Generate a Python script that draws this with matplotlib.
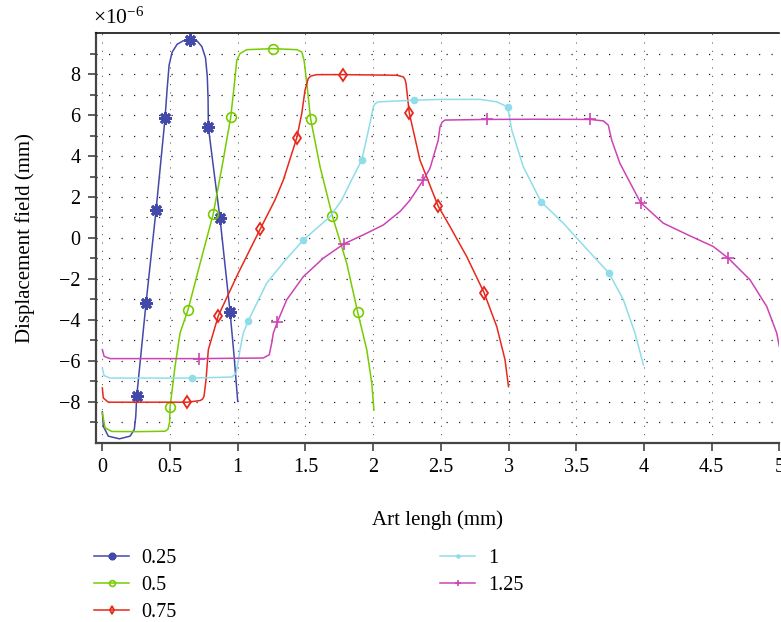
import matplotlib
matplotlib.use("Agg")
import matplotlib.pyplot as plt
from matplotlib.ticker import FixedLocator, FuncFormatter

plt.rcParams['font.family'] = ['Liberation Serif', 'DejaVu Serif']
plt.rcParams['mathtext.fontset'] = 'custom'
plt.rcParams['mathtext.rm'] = 'Liberation Serif'
plt.rcParams['axes.unicode_minus'] = True

# ---- data (y in units of 1e-6) ----
labels = ["0.25", "0.5", "0.75", "1", "1.25"]

x_025 = [0.0, 0.007, 0.044, 0.126, 0.205, 0.236, 0.247, 0.254, 0.323, 0.397, 0.463, 0.478, 0.493, 0.515,
         0.552, 0.596, 0.648, 0.699, 0.735, 0.762, 0.775, 0.781, 0.783, 0.825, 0.869, 0.906, 0.943, 0.973, 1.0]
y_025 = [-8.5, -9.2, -9.69, -9.82, -9.69, -9.37, -8.72, -7.74, -3.17, 1.37, 5.84, 7.22, 8.44, 9.07,
         9.46, 9.63, 9.69, 9.63, 9.35, 8.8, 7.9, 6.8, 5.43, 3.22, 0.96, -1.32, -3.6, -5.76, -7.99]
m_025 = [7, 8, 9, 10, 16, 22, 24, 26]

x_05 = [0.0, 0.02, 0.069, 0.25, 0.463, 0.485, 0.497, 0.5, 0.537, 0.574, 0.633, 0.72, 0.819, 0.89, 0.948,
        0.975, 0.993, 1.017, 1.066, 1.258, 1.436, 1.473, 1.49, 1.51, 1.539, 1.608, 1.699, 1.805, 1.886,
        1.953, 1.99, 2.006]
y_05 = [-8.55, -9.28, -9.46, -9.47, -9.45, -9.35, -9.0, -8.28, -6.28, -4.65, -3.51, -1.3, 1.17, 3.7, 5.89,
        7.5, 8.68, 9.01, 9.2, 9.25, 9.2, 9.09, 8.68, 7.55, 5.79, 3.48, 1.07, -1.24, -3.63,
        -5.46, -7.09, -8.42]
m_05 = [7, 10, 12, 14, 19, 24, 26, 28]

x_075 = [0.0, 0.007, 0.044, 0.3, 0.628, 0.722, 0.74, 0.751, 0.766, 0.783, 0.857, 1.004, 1.165, 1.275,
         1.337, 1.436, 1.473, 1.497, 1.521, 1.54, 1.583, 1.78, 2.174, 2.223, 2.235, 2.243, 2.267, 2.346,
         2.48, 2.568, 2.691, 2.819, 2.913, 2.974, 3.0]
y_075 = [-7.33, -7.82, -8.03, -8.03, -8.03, -7.95, -7.88, -7.74, -6.93, -5.46, -3.8, -1.72, 0.42, 1.85,
         2.83, 4.89, 6.08, 7.22, 7.79, 7.91, 7.98, 7.98, 7.95, 7.87, 7.75, 7.55, 6.11, 3.8,
         1.56, 0.55, -0.91, -2.67, -4.33, -5.95, -7.27]
m_075 = [4, 10, 12, 15, 21, 26, 28, 31]

x_1 = [0.0, 0.013, 0.057, 0.4, 0.665, 0.956, 0.987, 1.004, 1.017, 1.041, 1.078, 1.214, 1.35, 1.485,
       1.682, 1.768, 1.85, 1.916, 1.977, 2.001, 2.015, 2.038, 2.302, 2.494, 2.79, 2.913, 2.994, 3.024,
       3.109, 3.24, 3.405, 3.504, 3.651, 3.742, 3.848, 3.934, 3.996]
y_1 = [-6.36, -6.73, -6.85, -6.85, -6.85, -6.8, -6.63, -6.03, -5.46, -4.65, -4.05, -2.21, -1.1, -0.1,
       1.04, 1.85, 2.95, 3.8, 5.6, 6.4, 6.56, 6.65, 6.73, 6.77, 6.77, 6.65, 6.4, 5.27,
       3.48, 1.77, 0.72, -0.01, -1.07, -1.72, -3.02, -4.65, -6.2]
m_1 = [4, 10, 13, 17, 22, 26, 29, 33]

x_125 = [0.0, 0.013, 0.057, 0.4, 0.716, 1.189, 1.233, 1.251, 1.263, 1.293, 1.362, 1.485, 1.632, 1.785,
         1.928, 2.075, 2.2, 2.273, 2.371, 2.42, 2.481, 2.494, 2.51, 2.531, 2.839, 3.2, 3.602, 3.7,
         3.737, 3.762, 3.823, 3.976, 4.143, 4.34, 4.512, 4.623, 4.784, 4.907, 4.981, 5.0]
y_125 = [-5.46, -5.79, -5.9, -5.9, -5.9, -5.87, -5.71, -5.14, -4.65, -4.11, -3.02, -1.89, -0.99, -0.29,
         0.15, 0.63, 1.3, 1.85, 2.83, 3.4, 4.78, 5.43, 5.66, 5.76, 5.79, 5.8, 5.79, 5.72,
         5.51, 4.78, 3.64, 1.72, 0.72, 0.1, -0.42, -0.99, -2.05, -3.35, -4.65, -5.3]
m_125 = [4, 9, 13, 18, 24, 26, 31, 35]

x_ticks = [0, 0.5, 1, 1.5, 2, 2.5, 3, 3.5, 4, 4.5, 5]
y_ticks = [-8, -6, -4, -2, 0, 2, 4, 6, 8]
y_minor = [-9, -7, -5, -3, -1, 1, 3, 5, 7, 9]

# ---- figure ----
W, H = 781, 622
fig = plt.figure(figsize=(W / 100, H / 100), dpi=100)
ax = fig.add_axes([95.7 / W, 1 - 442.5 / H, (779.3 - 95.7) / W, (442.5 - 33.3) / H])

series = [
    (x_025, y_025, m_025, '#4349A8', dict(marker=(8, 2, 0), ms=9, mew=2.0, mfc='#4349A8')),
    (x_05, y_05, m_05, '#77CC00', dict(marker='o', ms=7, mew=1.2, mfc='none')),
    (x_075, y_075, m_075, '#E8281C', dict(marker='d', ms=6.5, mew=1.3, mfc='none')),
    (x_1, y_1, m_1, '#8FDDEA', dict(marker='o', ms=5.5, mew=0, mfc='#8FDDEA')),
    (x_125, y_125, m_125, '#CC44B4', dict(marker='+', ms=8, mew=1.2)),
]

handles = []
for (xs, ys, mk, col, mstyle), lab in zip(series, labels):
    h, = ax.plot(xs, ys, color=col, lw=1.1, markevery=mk, mec=col, label=lab, **mstyle)
    handles.append(h)

ax.set_xlim(-0.049, 5.0)
ax.set_ylim(-10, 10)
ax.xaxis.set_major_locator(FixedLocator(x_ticks))
ax.xaxis.set_major_formatter(FuncFormatter(lambda v, p: f"{v:g}"))
ax.yaxis.set_major_locator(FixedLocator(y_ticks))
ax.yaxis.set_minor_locator(FixedLocator(y_minor))
ax.yaxis.set_major_formatter(FuncFormatter(lambda v, p: f"{v:g}".replace('-', '\u2212')))

ax.tick_params(axis='both', which='major', direction='out', length=6, width=1.2,
               color='#444444', labelsize=14.5, pad=5)
ax.tick_params(axis='y', which='minor', direction='out', length=4, width=1.2, color='#444444')
ax.tick_params(axis='x', which='minor', length=0)

ax.grid(which='major', axis='x', color='#555555', lw=0.75, linestyle=(0, (1, 7)))
ax.grid(which='both', axis='y', color='#222222', lw=0.9, linestyle=(0, (1, 9)))
ax.set_axisbelow(True)

for s in ['left', 'bottom']:
    ax.spines[s].set_linewidth(1.6)
    ax.spines[s].set_color('#444444')
ax.spines['top'].set_linewidth(1.2)
ax.spines['top'].set_color('#111111')
ax.spines['right'].set_visible(False)

ax.set_xlabel("Art lengh (mm)", fontsize=15, labelpad=24)
ax.set_ylabel("Displacement field (mm)", fontsize=15, labelpad=17)

fig.text(93 / W, 1 - 18 / H, r"$\mathrm{\times 10^{-6}}$", fontsize=15.5, va='center', ha='left')

fig.legend(handles=handles, labels=labels, loc='upper left', bbox_to_anchor=(94 / W, 1 - 549 / H),
           ncol=2, frameon=False, fontsize=14.5, handlelength=1.74, handletextpad=0.61,
           columnspacing=13.1, labelspacing=0.39, borderpad=0, borderaxespad=0, markerscale=0.6)

fig.savefig("out.png", dpi=100)
